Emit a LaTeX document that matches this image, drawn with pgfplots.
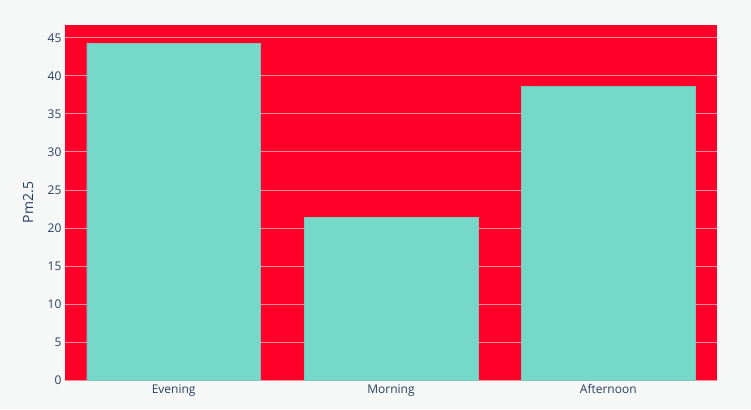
\documentclass[border=0pt]{standalone}
\usepackage{pgfplots}
\pgfplotsset{compat=1.18}
\usepackage{fontspec}
\setmainfont{Open Sans}

\definecolor{pagebg}{HTML}{F5F8F7}
\definecolor{plotbg}{HTML}{FF0028}
\definecolor{barfill}{HTML}{76D8C8}
\definecolor{gridc}{HTML}{FF8A98}
\definecolor{txt}{HTML}{2A3F5F}

\begin{document}
\begin{tikzpicture}[x=1pt,y=1pt]
\fill[pagebg] (0,0) rectangle (751,409);
\begin{axis}[
    at={(65pt,29pt)}, anchor=south west,
    scale only axis,
    width=652pt, height=355pt,
    xmin=-0.5, xmax=2.5,
    ymin=0, ymax=46.7,
    ytick={0,5,...,45},
    xtick=data,
    xticklabels={Evening, Morning, Afternoon},
    axis background/.style={fill=plotbg},
    axis line style={draw=none},
    major tick length=0pt,
    ymajorgrids,
    grid style={gridc, line width=0.9pt},
    ybar, bar width=0.8,
    font=\fontsize{12}{14}\selectfont,
    ticklabel style={text=txt},
    /pgf/number format/assume math mode=true,
    yticklabel style={anchor=east, xshift=0pt},
    xticklabel style={yshift=-1pt},
    ylabel={Pm2.5},
    every axis y label/.style={at={(axis description cs:-0.0567,0.5)}, rotate=90, anchor=center},
    ylabel style={font=\fontsize{14}{16}\selectfont, text=txt},
]
\addplot[fill=barfill, draw=barfill!80!gray, line width=0.4pt] coordinates {
    (0, 44.3)
    (1, 21.35)
    (2, 38.6)
};
\end{axis}
\end{tikzpicture}
\end{document}
